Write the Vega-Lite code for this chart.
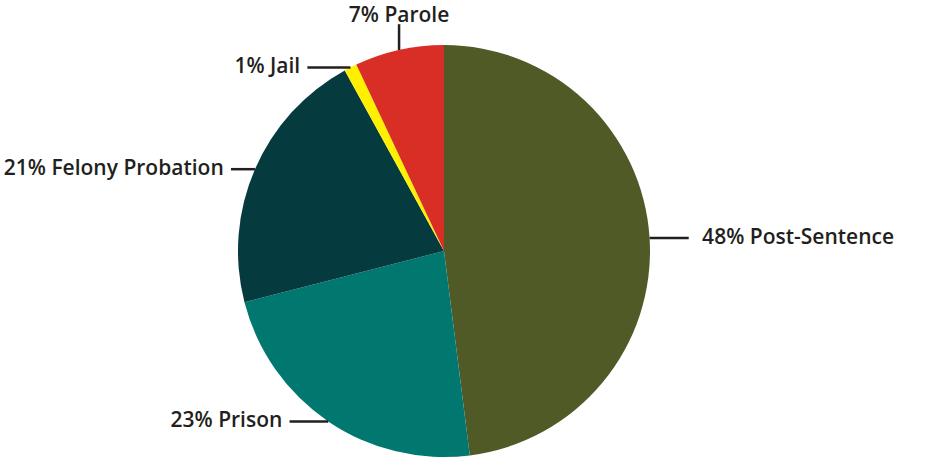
{
  "$schema": "https://vega.github.io/schema/vega-lite/v6.json",
  "width": 888,
  "height": 432,
  "autosize": {"type": "none"},
  "padding": {"left": 0, "top": 35, "right": 62, "bottom": 0},
  "background": "white",
  "config": {"view": {"stroke": null}},
  "data": {
    "values": [
      {"category": "Post-Sentence", "pct": 48, "rank": 1},
      {"category": "Prison", "pct": 23, "rank": 2},
      {"category": "Felony Probation", "pct": 21, "rank": 3},
      {"category": "Jail", "pct": 1, "rank": 4},
      {"category": "Parole", "pct": 7, "rank": 5}
    ]
  },
  "layer": [
    {
      "mark": {"type": "arc", "outerRadius": 206, "stroke": null},
      "encoding": {
        "theta": {"field": "pct", "type": "quantitative", "stack": true},
        "order": {"field": "rank", "type": "quantitative"},
        "color": {
          "field": "category",
          "type": "nominal",
          "legend": null,
          "scale": {
            "domain": ["Post-Sentence", "Prison", "Felony Probation", "Jail", "Parole"],
            "range": ["#505A26", "#007870", "#053A3E", "#FFF000", "#D92E26"]
          }
        }
      }
    },
    {
      "transform": [
        {"joinaggregate": [{"op": "sum", "field": "pct", "as": "total"}]},
        {"window": [{"op": "sum", "field": "pct", "as": "cum"}], "sort": [{"field": "rank"}], "frame": [null, 0]},
        {"calculate": "2*PI*(datum.cum - datum.pct/2)/datum.total", "as": "a"},
        {"calculate": "sin(datum.a)", "as": "sx"},
        {"calculate": "cos(datum.a)", "as": "sy"},
        {"calculate": "abs(datum.sx) > 0.4", "as": "horiz"},
        {"calculate": "datum.sx > 0 ? 0.19 : 0.2*(1.5 - abs(datum.sx))", "as": "len"},
        {"calculate": "datum.horiz ? datum.sx + (datum.sx > 0 ? datum.len : -datum.len) : datum.sx", "as": "ex"},
        {"calculate": "datum.horiz ? datum.sy : datum.sy + 0.125", "as": "ey"},
        {"calculate": "datum.horiz ? datum.ex + (datum.sx > 0 ? 0.065 : -0.035) : datum.ex", "as": "lx"},
        {"calculate": "datum.horiz ? datum.ey : datum.ey + 0.012", "as": "ly"},
        {"calculate": "datum.horiz ? (datum.sx > 0 ? 'left' : 'right') : 'center'", "as": "side"},
        {"calculate": "datum.pct + '% ' + datum.category", "as": "label"}
      ],
      "layer": [
        {
          "mark": {"type": "rule", "stroke": "#231F20", "strokeWidth": 2.5},
          "encoding": {
            "x": {"field": "sx", "type": "quantitative", "axis": null, "scale": {"domain": [-2.15534, 2.15534], "nice": false, "zero": false}},
            "y": {"field": "sy", "type": "quantitative", "axis": null, "scale": {"domain": [-1.04854, 1.04854], "nice": false, "zero": false}},
            "x2": {"field": "ex"},
            "y2": {"field": "ey"}
          }
        },
        {
          "transform": [{"filter": "datum.side == 'left'"}],
          "mark": {"type": "text", "align": "left", "baseline": "middle", "font": "Open Sans", "fontSize": 21, "fontWeight": 600, "fill": "#231F20"},
          "encoding": {
            "x": {"field": "lx", "type": "quantitative"},
            "y": {"field": "ly", "type": "quantitative"},
            "text": {"field": "label"}
          }
        },
        {
          "transform": [{"filter": "datum.side == 'right'"}],
          "mark": {"type": "text", "align": "right", "baseline": "middle", "font": "Open Sans", "fontSize": 21, "fontWeight": 600, "fill": "#231F20"},
          "encoding": {
            "x": {"field": "lx", "type": "quantitative"},
            "y": {"field": "ly", "type": "quantitative"},
            "text": {"field": "label"}
          }
        },
        {
          "transform": [{"filter": "datum.side == 'center'"}],
          "mark": {"type": "text", "align": "center", "baseline": "alphabetic", "font": "Open Sans", "fontSize": 21, "fontWeight": 600, "fill": "#231F20"},
          "encoding": {
            "x": {"field": "lx", "type": "quantitative"},
            "y": {"field": "ly", "type": "quantitative"},
            "text": {"field": "label"}
          }
        }
      ]
    }
  ]
}
